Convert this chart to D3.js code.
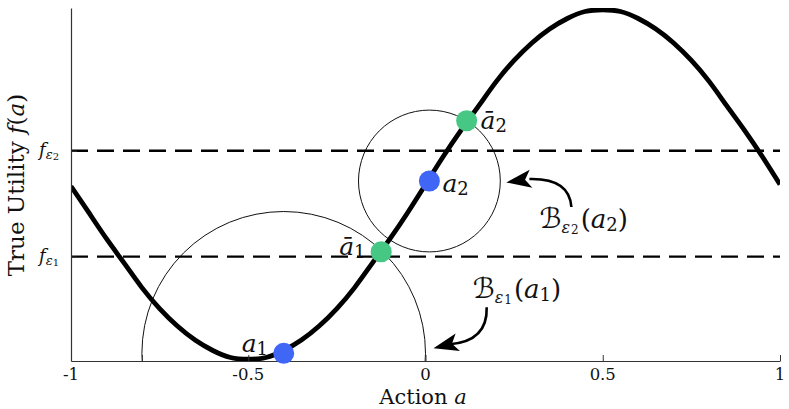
<!DOCTYPE html>
<html>
<head>
<meta charset="utf-8">
<script src="https://cdn.jsdelivr.net/npm/d3@7"></script>
<style>
  html, body { margin: 0; padding: 0; background: #fff; }
  svg { display: block; }
  text { font-family: "DejaVu Serif", "Liberation Serif", serif; fill: #111; }
</style>
</head>
<body>
<svg id="chart" width="789" height="409"></svg>
<script>
// ---- data ----
const curveA = [-1,-0.95,-0.9,-0.85,-0.8,-0.75,-0.7,-0.65,-0.6,-0.55,-0.5,-0.45,-0.4,-0.35,-0.3,-0.25,-0.2,-0.15,-0.1,-0.05,0,0.05,0.1,0.15,0.2,0.25,0.3,0.35,0.4,0.45,0.5,0.55,0.6,0.65,0.7,0.75,0.8,0.85,0.9,0.95,1];
const curveF = [-0.01,-0.16,-0.31,-0.45,-0.59,-0.71,-0.81,-0.89,-0.95,-0.99,-1.0,-0.99,-0.95,-0.89,-0.81,-0.71,-0.59,-0.45,-0.31,-0.16,0.0,0.16,0.31,0.45,0.59,0.71,0.81,0.89,0.95,0.99,1.0,0.99,0.95,0.89,0.81,0.71,0.59,0.45,0.31,0.16,0.0];

const centerNames = ["a1", "a2"];
const centerA = [-0.40, 0.011];
const centerF = [-0.966, 0.02];
const ballRadiusA = [0.40, 0.20];   // radius in action units

const edgeNames = ["abar1", "abar2"];
const edgeA = [-0.125, 0.116];
const edgeF = [-0.385, 0.365];

const levelNames = ["eps2", "eps1"];
const levelF = [0.193, -0.413];

const xTicks = [-1, -0.8, -0.5, 0, 0.5, 1];
const xTickLabels = ["-1", "", "-0.5", "0", "0.5", "1"];

// ---- scales ----
const svg = d3.select("#chart");
const x = d3.scaleLinear().domain([-1, 1]).range([71, 780]);
const y = d3.scaleLinear().domain([-1.01, 1.01]).range([361, 8]);
const pxPerA = x(1) - x(0);

const blue = "#3f66f4";
const green = "#46c783";

// clip to plot area
svg.append("defs").append("clipPath").attr("id", "plotclip")
  .append("rect").attr("x", x(-1)).attr("y", y(1.01))
  .attr("width", x(1) - x(-1)).attr("height", y(-1.01) - y(1.01));

const plot = svg.append("g").attr("clip-path", "url(#plotclip)");

// balls (thin circles)
plot.selectAll("circle.ball").data(centerA).enter().append("circle")
  .attr("class", "ball")
  .attr("cx", (d) => x(d))
  .attr("cy", (d, i) => y(centerF[i]))
  .attr("r", (d, i) => ballRadiusA[i] * pxPerA)
  .attr("fill", "none").attr("stroke", "#111").attr("stroke-width", 1);

// dashed level lines
plot.selectAll("line.level").data(levelF).enter().append("line")
  .attr("x1", x(-1)).attr("x2", x(1))
  .attr("y1", (d) => y(d)).attr("y2", (d) => y(d))
  .attr("stroke", "#000").attr("stroke-width", 2.4)
  .attr("stroke-dasharray", "17,9");

// utility curve
const pts = curveA.map((a, i) => [a, curveF[i]]);
plot.append("path").datum(pts)
  .attr("d", d3.line().x((d) => x(d[0])).y((d) => y(d[1])).curve(d3.curveNatural))
  .attr("fill", "none").attr("stroke", "#000").attr("stroke-width", 4.8)
  .attr("stroke-linejoin", "round");

// axes
const axisColor = "#333";
const xAxisG = svg.append("g").attr("transform", `translate(0,${y(-1.01)})`)
  .call(d3.axisTop(x).tickValues(xTicks).tickSize(6).tickSizeOuter(0).tickFormat(() => ""));
xAxisG.select(".domain").attr("stroke", axisColor).attr("stroke-width", 1.2);
xAxisG.selectAll(".tick line").attr("stroke", axisColor).attr("stroke-width", 1);

svg.selectAll("text.xtick").data(xTicks).enter().append("text")
  .attr("class", "xtick")
  .attr("x", (d) => x(d)).attr("y", 379.5)
  .attr("text-anchor", "middle").attr("font-size", 16.5)
  .text((d, i) => xTickLabels[i]);

const yAxisG = svg.append("g").attr("transform", `translate(${x(-1)},0)`)
  .call(d3.axisRight(y).tickValues(levelF).tickSize(6).tickSizeOuter(0).tickFormat(() => ""));
yAxisG.select(".domain").attr("stroke", axisColor).attr("stroke-width", 1.2);
yAxisG.selectAll(".tick line").attr("stroke", axisColor).attr("stroke-width", 1);

// y tick labels f_{eps}
const levelSub = ["2", "1"];
levelF.forEach((f, i) => {
  const t = svg.append("text").attr("x", 39).attr("y", y(f) + 5).attr("font-size", 18);
  t.append("tspan").attr("font-style", "italic").text("f");
  t.append("tspan").attr("font-style", "italic").attr("font-size", 13).attr("dy", 3).text("ε");
  t.append("tspan").attr("font-size", 10).attr("dy", 1).text(levelSub[i]);
});

// axis titles
const xt = svg.append("text").attr("x", 423).attr("y", 403.5)
  .attr("text-anchor", "middle").attr("font-size", 21);
xt.append("tspan").text("Action ");
xt.append("tspan").attr("font-style", "italic").text("a");

const yt = svg.append("text").attr("transform", `translate(24,185) rotate(-90)`)
  .attr("text-anchor", "middle").attr("font-size", 23);
yt.append("tspan").text("True Utility ");
yt.append("tspan").attr("font-style", "italic").text("f");
yt.append("tspan").text("(");
yt.append("tspan").attr("font-style", "italic").text("a");
yt.append("tspan").text(")");

// dots
svg.selectAll("circle.center").data(centerA).enter().append("circle")
  .attr("cx", (d) => x(d)).attr("cy", (d, i) => y(centerF[i]))
  .attr("r", 10.5).attr("fill", blue);
svg.selectAll("circle.edge").data(edgeA).enter().append("circle")
  .attr("cx", (d) => x(d)).attr("cy", (d, i) => y(edgeF[i]))
  .attr("r", 10.5).attr("fill", green);

// point labels
function mathLabel(px, py, main, sub, italicMain) {
  const t = svg.append("text").attr("x", px).attr("y", py).attr("font-size", 25);
  t.append("tspan").attr("font-style", italicMain ? "italic" : "normal").text(main);
  t.append("tspan").attr("font-size", 18).attr("dy", 3).text(sub);
  return t;
}
mathLabel(x(centerA[0]) - 42, y(centerF[0]) - 1, "a", "1", true);
mathLabel(x(centerA[1]) + 13, y(centerF[1]) + 11, "a", "2", true);
mathLabel(x(edgeA[0]) - 42, y(edgeF[0]) + 3, "\u0101", "1", true);
mathLabel(x(edgeA[1]) + 14, y(edgeF[1]) + 8, "\u0101", "2", true);

// ball labels
function ballLabel(px, py, epsSub, aSub) {
  const t = svg.append("text").attr("x", px).attr("y", py).attr("font-size", 26);
  t.append("tspan").attr("font-family", "DejaVu Sans, Noto Sans, sans-serif").attr("font-size", 28).text("\u212C");
  t.append("tspan").attr("font-style", "italic").attr("font-size", 16).attr("dy", 5).text("ε");
  t.append("tspan").attr("font-size", 12).attr("dy", 1).attr("dx", 1).text(epsSub);
  t.append("tspan").attr("dy", -6).attr("dx", 2).text("(");
  t.append("tspan").attr("font-style", "italic").text("a");
  t.append("tspan").attr("font-size", 18).attr("dy", 3).text(aSub);
  t.append("tspan").attr("dy", -3).text(")");
}
const r2 = ballRadiusA[1] * pxPerA;
const c2x = x(centerA[1]), c2y = y(centerF[1]);
ballLabel(c2x + 110, c2y + 47, "2", "2");
const r1 = ballRadiusA[0] * pxPerA;
const c1x = x(centerA[0]), c1y = y(centerF[0]);
ballLabel(c1x + 189, c1y - 55, "1", "1");

// curved arrows
function arrow(start, ctrl, end, tip) {
  svg.append("path")
    .attr("d", `M${start[0]},${start[1]} Q${ctrl[0]},${ctrl[1]} ${end[0]},${end[1]}`)
    .attr("fill", "none").attr("stroke", "#000").attr("stroke-width", 2.6);
  const ang = Math.atan2(tip[1] - end[1], tip[0] - end[0]) * 180 / Math.PI;
  svg.append("path")
    .attr("d", "M0,0 L-25,-9 L-19,0 L-25,9 Z")
    .attr("transform", `translate(${tip[0]},${tip[1]}) rotate(${ang})`)
    .attr("fill", "#000");
}
arrow([c2x + 142, c2y + 26], [c2x + 140, c2y - 3], [c2x + 100, c2y - 2], [c2x + r2 + 6, c2y + 1.5]);
arrow([c1x + 203, c1y - 46], [c1x + 204, c1y - 12], [c1x + 166, c1y - 9], [c1x + r1 + 8, c1y - 5]);
</script>
</body>
</html>
